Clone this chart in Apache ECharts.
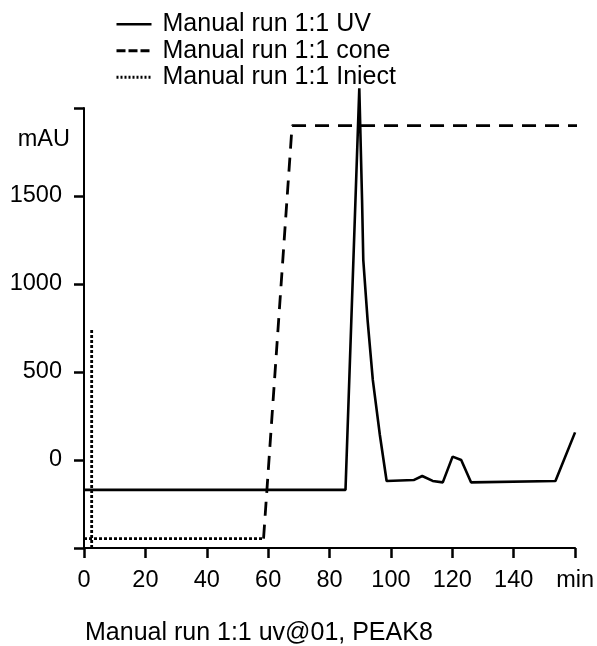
<!DOCTYPE html>
<html>
<head>
<meta charset="utf-8">
<script src="https://cdn.jsdelivr.net/npm/echarts@6/dist/echarts.min.js"></script>
<style>
  html, body { margin: 0; padding: 0; background: #fff; }
  #chart { width: 597px; height: 646px; }
</style>
</head>
<body>
<div id="chart"></div>
<script>
// values (min / mAU)
const uvTime = [0, 85.2, 89.7, 90.6, 91.0, 92.4, 94.1, 96.4, 98.6, 107.4, 110.2, 113.6, 116.9, 120.1, 122.9, 126.1, 153.6, 160];
const uvValue = [-170, -170, 2112, 1477, 1136, 795, 455, 142, -119, -114, -91, -119, -127, 19, 0, -127, -119, 157];

const coneTime = [58.5, 67.8, 161.5];
const coneValue = [-447, 1900, 1900];

const injectTime = [2.5, 2.5];
const injectValue = [-500, 739];
const injectBaseTime = [0, 58.5];
const injectBaseValue = [-447, -447];

const xTicks = [0, 20, 40, 60, 80, 100, 120, 140, 160];
const yTicks = [-500, 0, 500, 1000, 1500, 2000];

const seriesNames = ["Manual run 1:1 UV", "Manual run 1:1 cone", "Manual run 1:1 Iniect"];

const font = "'Liberation Sans', Arial, sans-serif";
const zip = (xs, ys) => xs.map((x, i) => [x, ys[i]]);
const noSymbol = { opacity: 0 };

const chart = echarts.init(document.getElementById("chart"));
chart.setOption({
  animation: false,
  textStyle: { fontFamily: font, color: "#000" },
  title: {
    text: "Manual run 1:1 uv@01, PEAK8",
    left: 85,
    top: 621,
    padding: 0,
    textStyle: { fontSize: 25, fontWeight: "normal", color: "#000", fontFamily: font },
  },
  legend: {
    data: [
      { name: seriesNames[0], itemStyle: noSymbol, lineStyle: { type: "solid", width: 2.5 } },
      { name: seriesNames[1], itemStyle: noSymbol, lineStyle: { type: [9, 3], width: 3 } },
      { name: seriesNames[2], itemStyle: noSymbol, lineStyle: { type: [2, 2], width: 3 } },
    ],
    orient: "vertical",
    left: 115,
    top: 11,
    itemWidth: 35,
    itemHeight: 12,
    itemGap: 0,
    padding: 0,
    textStyle: { fontSize: 25, color: "#000", lineHeight: 26.5, padding: [0, 0, 0, 6], fontFamily: font },
  },
  grid: { left: 84, right: 21, top: 108, bottom: 98 },
  xAxis: {
    type: "value",
    min: xTicks[0],
    max: xTicks[xTicks.length - 1],
    interval: 20,
    axisLine: { show: true, onZero: false, lineStyle: { color: "#000", width: 2 } },
    axisTick: { show: true, length: 10, lineStyle: { color: "#000", width: 2.5 } },
    splitLine: { show: false },
    axisLabel: {
      color: "#000",
      fontSize: 23.5,
      margin: 21,
      showMaxLabel: true,
      formatter: (v) => (v === 160 ? "min" : String(v)),
    },
  },
  yAxis: {
    type: "value",
    min: yTicks[0],
    max: yTicks[yTicks.length - 1],
    interval: 500,
    name: "mAU",
    nameLocation: "end",
    nameGap: -32,
    nameTextStyle: { fontSize: 23.5, color: "#000", align: "right", verticalAlign: "middle", padding: [0, 14, 0, 0] },
    axisLine: { show: true, onZero: false, lineStyle: { color: "#000", width: 2 } },
    axisTick: { show: true, length: 10, lineStyle: { color: "#000", width: 2.5 } },
    splitLine: { show: false },
    axisLabel: {
      color: "#000",
      fontSize: 23.5,
      margin: 22,
      formatter: (v) => (v === -500 || v === 2000 ? "" : String(v)),
    },
  },
  series: [
    {
      name: seriesNames[0],
      type: "line",
      symbol: "none",
      clip: false,
      lineStyle: { color: "#000", width: 2.6, type: "solid" },
      itemStyle: { color: "#000" },
      data: zip(uvTime, uvValue),
    },
    {
      name: seriesNames[1],
      type: "line",
      symbol: "none",
      clip: false,
      lineStyle: { color: "#000", width: 2.8, type: [14, 9] },
      itemStyle: { color: "#000" },
      data: zip(coneTime, coneValue),
    },
    {
      name: seriesNames[2],
      type: "line",
      symbol: "none",
      clip: false,
      lineStyle: { color: "#000", width: 2.8, type: [3, 2] },
      itemStyle: { color: "#000" },
      data: zip(injectTime, injectValue),
    },
    {
      name: seriesNames[2],
      type: "line",
      symbol: "none",
      clip: false,
      lineStyle: { color: "#000", width: 2.8, type: [3, 2] },
      itemStyle: { color: "#000" },
      data: zip(injectBaseTime, injectBaseValue),
    },
  ],
});
</script>
</body>
</html>
